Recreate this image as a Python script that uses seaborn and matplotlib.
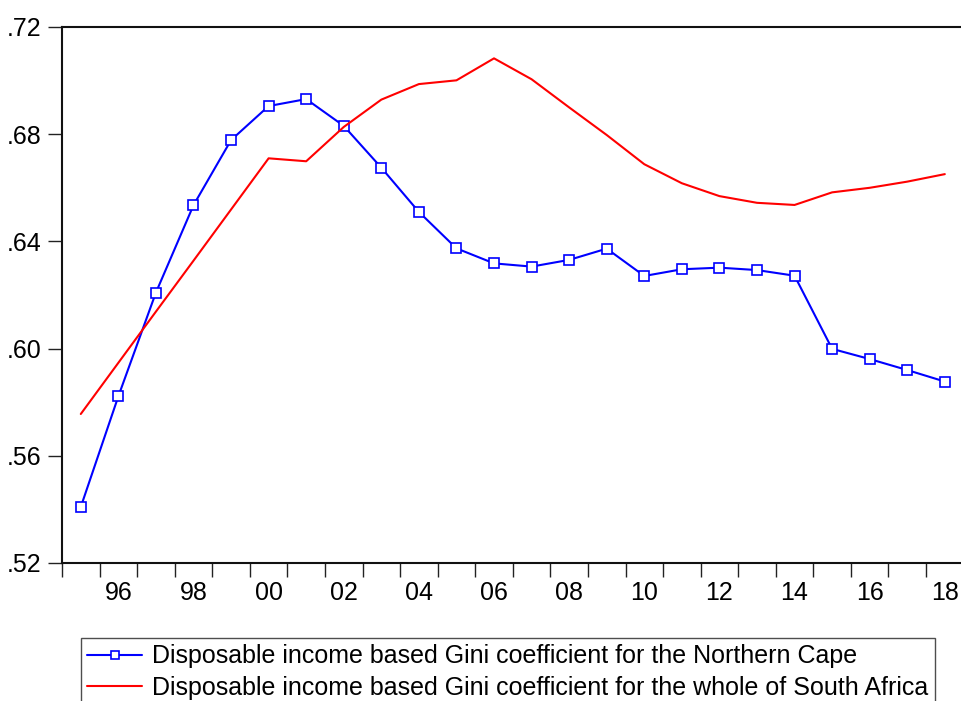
import matplotlib
matplotlib.use("Agg")
import matplotlib.pyplot as plt
import seaborn as sns
import pandas as pd
from matplotlib.ticker import FixedLocator, NullFormatter, FixedFormatter

sns.set_style("white")
plt.rcParams["font.family"] = ["Liberation Sans", "DejaVu Sans"]
plt.rcParams["text.color"] = "black"

years = list(range(1995, 2019))
northern_cape = [0.5409, 0.5822, 0.6209, 0.6535, 0.6778, 0.6905, 0.6931, 0.6831,
                 0.6675, 0.6510, 0.6374, 0.6318, 0.6306, 0.6331, 0.6373, 0.6271,
                 0.6296, 0.6302, 0.6293, 0.6272, 0.5999, 0.5961, 0.5920, 0.5877]
south_africa = [0.5756, 0.5947, 0.6138, 0.6328, 0.6519, 0.6710, 0.6699, 0.6827,
                0.6929, 0.6987, 0.7001, 0.7083, 0.7005, 0.6900, 0.6797, 0.6688,
                0.6617, 0.6569, 0.6544, 0.6536, 0.6583, 0.6600, 0.6623, 0.6651]
label_nc = "Disposable income based Gini coefficient for the Northern Cape"
label_sa = "Disposable income based Gini coefficient for the whole of South Africa"
y_ticks = [0.52, 0.56, 0.60, 0.64, 0.68, 0.72]
y_tick_labels = [".52", ".56", ".60", ".64", ".68", ".72"]

df_nc = pd.DataFrame({"year": years, "gini": northern_cape})
df_sa = pd.DataFrame({"year": years, "gini": south_africa})

W, H = 962, 701
fig = plt.figure(figsize=(W / 100, H / 100), dpi=100)
left, right, top, bottom = 62, 963.6, 27, 563
ax = fig.add_axes([left / W, 1 - bottom / H, (right - left) / W, (bottom - top) / H])

sns.lineplot(data=df_nc, x="year", y="gini", ax=ax, color="#0000ff", lw=1.5,
             marker="s", markersize=7, markerfacecolor="white",
             markeredgecolor="#0000ff", markeredgewidth=1.2, label=label_nc)
sns.lineplot(data=df_sa, x="year", y="gini", ax=ax, color="#ff0000", lw=1.5,
             label=label_sa)

ax.set_xlim(years[0] - 0.5, years[-1] + 0.5)
ax.set_ylim(0.52, 0.72)
ax.set_xlabel("")
ax.set_ylabel("")

# year boundaries carry the ticks, labels sit at the centre of even years
ax.xaxis.set_major_locator(FixedLocator([y - 0.5 for y in years] + [years[-1] + 0.5]))
ax.xaxis.set_major_formatter(NullFormatter())
even = [y for y in years if y % 2 == 0]
ax.xaxis.set_minor_locator(FixedLocator(even))
ax.xaxis.set_minor_formatter(FixedFormatter([f"{y % 100:02d}" for y in even]))
ax.tick_params(axis="x", which="major", direction="out", length=10, width=1,
               color="#222222", bottom=True)
ax.tick_params(axis="x", which="minor", length=0, pad=13, labelsize=18,
               labelcolor="black", bottom=True)

ax.set_yticks(y_ticks)
ax.set_yticklabels(y_tick_labels)
ax.tick_params(axis="y", which="major", direction="out", length=10, width=1,
               color="#222222", pad=5, labelsize=18, labelcolor="black", left=True)

for side in ["left", "top", "bottom", "right"]:
    ax.spines[side].set_color("#111111")
    ax.spines[side].set_linewidth(1.5)

leg = ax.legend(loc="upper left", bbox_to_anchor=(81 / W, 1 - 638 / H),
                bbox_transform=fig.transFigure, borderaxespad=0, fontsize=18,
                frameon=True, fancybox=False, edgecolor="#222222",
                handlelength=2.2, handletextpad=0.4, labelspacing=0.3,
                borderpad=0.25, markerscale=0.8)
leg.get_frame().set_linewidth(1.0)
for txt in leg.get_texts():
    txt.set_color("black")

fig.savefig("out.png", dpi=100)
